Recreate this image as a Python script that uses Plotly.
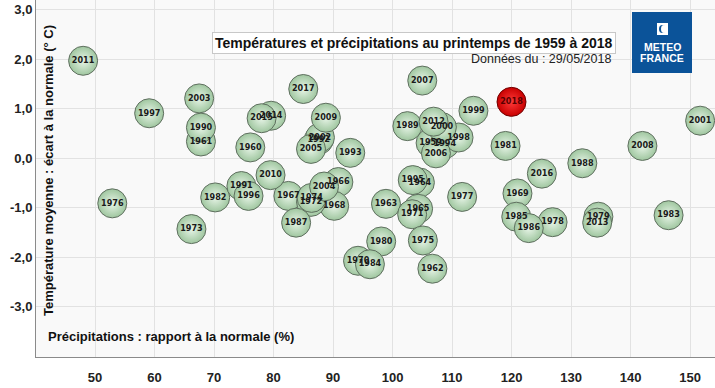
import plotly.graph_objects as go

years = list(range(1959, 2019))
precip = [106.4, 76.1, 67.8, 106.7, 98.9, 104.6, 104.3, 90.9, 82.5, 90.2,
          121.0, 94.2, 103.3, 86.3, 66.2, 86.4, 105.1, 52.9, 111.7, 126.9,
          134.6, 98.1, 119.0, 70.2, 146.4, 96.2, 120.8, 122.9, 83.8, 131.9,
          102.5, 67.8, 74.6, 87.6, 92.9, 108.8, 103.4, 75.8, 59.1, 111.1,
          113.6, 108.3, 151.7, 87.8, 67.5, 88.5, 86.3, 107.3, 105.0, 142.0,
          88.8, 79.5, 48.0, 106.9, 134.4, 79.6, 78.0, 125.1, 85.0, 120.0]
temp = [0.31, 0.22, 0.34, -2.23, -0.92, -0.49, -1.02, -0.48, -0.76, -0.96,
        -0.71, -2.07, -1.13, -0.88, -1.43, -0.80, -1.66, -0.91, -0.78, -1.29,
        -1.18, -1.68, 0.25, -0.79, -1.15, -2.14, -1.18, -1.41, -1.30, -0.10,
        0.65, 0.62, -0.56, 0.37, 0.11, 0.29, -0.44, -0.76, 0.91, 0.42,
        0.96, 0.63, 0.76, 0.42, 1.21, -0.57, 0.19, 0.10, 1.57, 0.25,
        0.82, -0.34, 1.97, 0.74, -1.30, 0.86, 0.81, -0.31, 1.40, 1.14]
current_year = 2018

x_ticks = [50, 60, 70, 80, 90, 100, 110, 120, 130, 140, 150]
y_ticks = [-3, -2, -1, 0, 1, 2, 3]
y_tick_labels = ["-3,0", "-2,0", "-1,0", "0,0", "1,0", "2,0", "3,0"]

title_text = "Températures et précipitations au printemps de 1959 à 2018"
subtitle_text = "Données du : 29/05/2018"
x_title = "Précipitations : rapport à la normale (%)"
y_title = "Température moyenne : écart à la normale (° C)"

narrow = "Liberation Sans Narrow, Arial Narrow, DejaVu Sans Condensed, sans-serif"
sans = "Liberation Sans, Arial, sans-serif"

idx_old = [i for i, y in enumerate(years) if y != current_year]
idx_cur = [i for i, y in enumerate(years) if y == current_year]

fig = go.Figure()
fig.add_trace(go.Scatter(
    x=[precip[i] for i in idx_old], y=[temp[i] for i in idx_old],
    text=[str(years[i]) for i in idx_old],
    mode="markers+text", textposition="middle center",
    textfont=dict(family=narrow, size=9, color="#1a1a1a", weight="bold"),
    marker=dict(size=29, color="#9fc69f",
                gradient=dict(type="radial", color="#e8f5e8"),
                line=dict(color="#5f6f5f", width=1)),
    hoverinfo="skip", showlegend=False,
))
fig.add_trace(go.Scatter(
    x=[precip[i] for i in idx_cur], y=[temp[i] for i in idx_cur],
    text=[str(years[i]) for i in idx_cur],
    mode="markers+text", textposition="middle center",
    textfont=dict(family=narrow, size=9, color="#5a0000", weight="bold"),
    marker=dict(size=29, color="#c80000",
                gradient=dict(type="radial", color="#ff3a3a"),
                line=dict(color="#700000", width=1)),
    hoverinfo="skip", showlegend=False,
))

# paper coordinate helpers (plot area: x 36..715, y 0..357 px)
def px(x):
    return (x - 36) / 679.0

def py(y):
    return (357 - y) / 357.0

annotations = [
    dict(text="<b>" + title_text + "</b>", x=px(414), y=py(42.5), xref="paper", yref="paper",
         xanchor="center", yanchor="middle", showarrow=False,
         font=dict(family=sans, size=14, color="#111"),
         bgcolor="white", bordercolor="#c8c8c8", borderwidth=1, borderpad=2),
    dict(text=subtitle_text, x=px(613), y=py(59), xref="paper", yref="paper",
         xanchor="right", yanchor="middle", showarrow=False,
         font=dict(family=sans, size=12.5, color="#222")),
    dict(text="<b>" + x_title + "</b>", x=px(46), y=py(336), xref="paper", yref="paper",
         xanchor="left", yanchor="middle", showarrow=False,
         font=dict(family=sans, size=13, color="#111")),
    dict(text="<b>" + y_title + "</b>", x=px(48), y=py(171), xref="paper", yref="paper",
         xanchor="center", yanchor="middle", showarrow=False, textangle=-90,
         font=dict(family=sans, size=13, color="#111")),
    dict(text="<b>METEO</b>", x=px(662), y=py(47), xref="paper", yref="paper",
         xanchor="center", yanchor="middle", showarrow=False,
         font=dict(family=sans, size=10.5, color="white")),
    dict(text="<b>FRANCE</b>", x=px(662), y=py(58), xref="paper", yref="paper",
         xanchor="center", yanchor="middle", showarrow=False,
         font=dict(family=sans, size=10.5, color="white")),
]

shapes = [
    dict(type="rect", xref="paper", yref="paper", x0=px(632), x1=px(692),
         y0=py(73), y1=py(12), fillcolor="#0b5399", line=dict(width=0), layer="above"),
    dict(type="rect", xref="paper", yref="paper", x0=px(657), x1=px(668),
         y0=py(35), y1=py(23), fillcolor="white", line=dict(width=0), layer="above"),
    dict(type="circle", xref="paper", yref="paper", x0=px(659), x1=px(666),
         y0=py(33), y1=py(25), fillcolor="#0b5399", line=dict(width=0), layer="above"),
    dict(type="circle", xref="paper", yref="paper", x0=px(661), x1=px(667),
         y0=py(33), y1=py(25), fillcolor="white", line=dict(width=0), layer="above"),
]

fig.update_layout(
    width=715, height=388,
    margin=dict(l=36, r=0, t=0, b=31),
    paper_bgcolor="white", plot_bgcolor="#f9f9f9",
    annotations=annotations, shapes=shapes,
    xaxis=dict(range=[40.08, 154.2], tickvals=x_ticks, showgrid=True,
               gridcolor="#e2e2e2", gridwidth=1, zeroline=False,
               showline=True, linecolor="#8a8a8a", linewidth=1,
               ticks="", ticklabelstandoff=8,
               tickfont=dict(family=sans, size=13, color="#222", weight="bold")),
    yaxis=dict(range=[-4.014, 3.198], tickvals=y_ticks, ticktext=y_tick_labels,
               showgrid=True, gridcolor="#e2e2e2", gridwidth=1, zeroline=False,
               showline=True, linecolor="#8a8a8a", linewidth=1, ticks="",
               tickfont=dict(family=sans, size=13, color="#222", weight="bold")),
)

fig.write_html("out.html", config={"displayModeBar": False},
               post_script="document.body.style.margin='0';document.body.style.overflow='hidden';")
